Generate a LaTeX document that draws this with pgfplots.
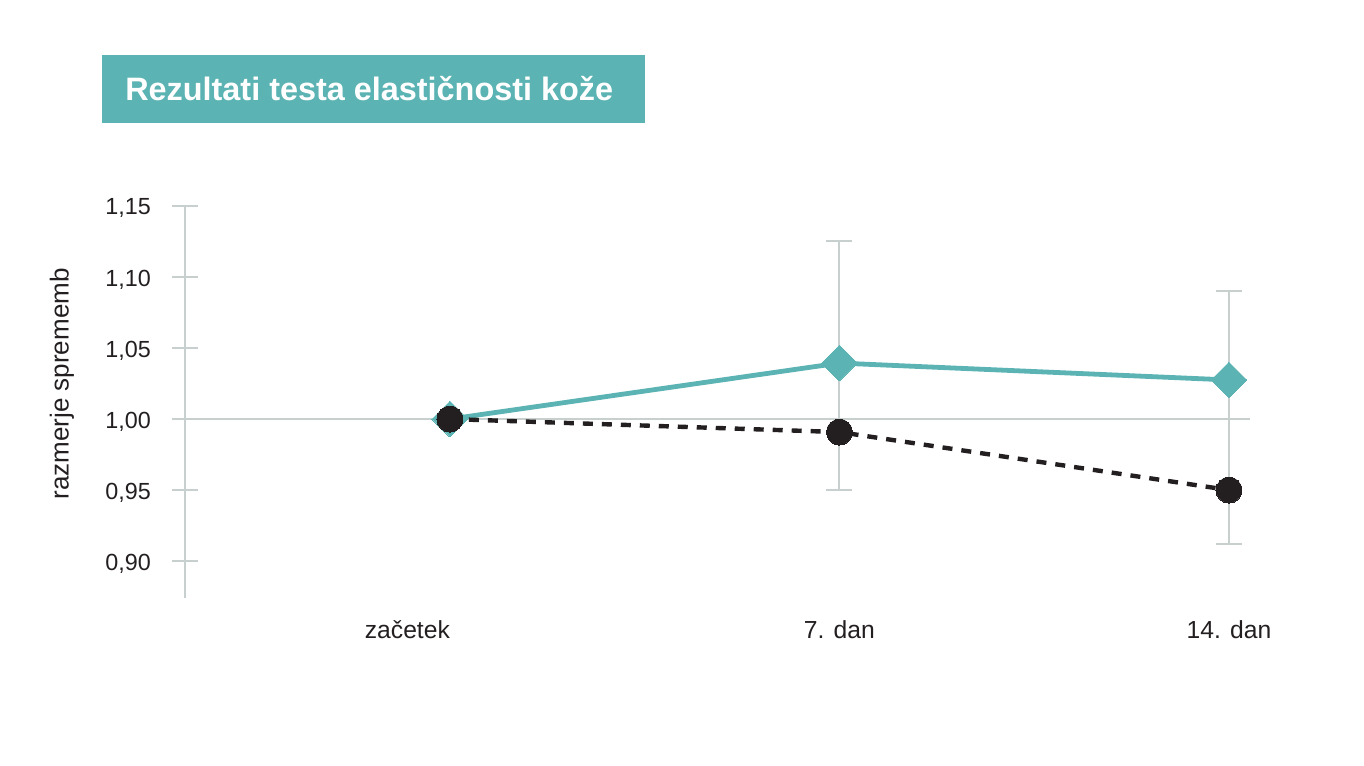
\documentclass[border=0pt]{standalone}
\usepackage{pgfplots}
\pgfplotsset{compat=1.18}
\usepackage{fontspec}
\setmainfont{Liberation Sans}
\definecolor{teal1}{HTML}{5CB3B3}
\definecolor{ink}{HTML}{231F20}
\definecolor{grid1}{HTML}{C8D0CF}
\begin{document}
\begin{tikzpicture}[x=0.75pt,y=0.75pt]
\useasboundingbox (0,0) rectangle (1364,766);
% title
\fill[teal1] (102,643) rectangle (645,711);
\node[anchor=base west, text=white, font=\fontsize{24.3pt}{28pt}\selectfont\bfseries, inner sep=0pt] at (125,665) {Rezultati testa elastičnosti kože};
\begin{axis}[
  at={(138.75pt,126pt)}, anchor=south west,
  scale only axis, width=798.75pt, height=294pt,
  xmin=-0.680, xmax=2.054, ymin=0.874, ymax=1.15,
  axis lines=left,
  axis line style={draw=grid1, line width=1.5pt, -},
  x axis line style={draw=none},
  xtick={0,1,2}, xticklabels={\makebox[0pt][r]{začetek},7. dan,14. dan},
  xtick style={draw=none},
  ytick={0.90,0.95,1.00,1.05,1.10,1.15},
  ytick style={draw=grid1, line width=1.5pt},
  tick align=center, major tick length=19.5pt,
  /pgf/number format/.cd, assume math mode=true, use comma, fixed, fixed zerofill, precision=2,
  /pgfplots/.cd,
  yticklabel style={anchor=base east, inner sep=0pt, xshift=-15.75pt, yshift=-6.75pt, font=\fontsize{17.5pt}{20pt}\selectfont, text=ink},
  xticklabel style={anchor=base, inner sep=0pt, yshift=-21pt, font=\fontsize{18.5pt}{22pt}\selectfont, text=ink},
  ylabel={razmerje sprememb},
  every axis y label/.style={at={(axis description cs:-0.1155,0.546)}, rotate=90, anchor=center, font=\fontsize{19.5pt}{22pt}\selectfont, text=ink},
  clip=false,
]
\draw[grid1, line width=1.5pt] (axis cs:-0.680,1) -- (axis cs:2.054,1);
% error bars
\addplot[draw=none, mark=none, forget plot,
  error bars/.cd, y dir=both, y explicit,
  error bar style={draw=grid1, line width=1.5pt},
  error mark=|, error mark options={draw=grid1, line width=1.5pt, mark size=9.75pt}]
  table[x=x, y=y, y error plus=ep, y error minus=em] {
x y ep em
1 1.0394 0.0856 0.0894
2 1.0275 0.0625 0.1155
};
% teal series
\addplot[teal1, line width=3.6pt, mark=square*, mark size=9.5pt,
  mark options={rotate=45, fill=teal1, draw=teal1, line width=0pt}]
  coordinates {(0,1.000) (1,1.0394) (2,1.0275)};
% black dashed series
\addplot[ink, line width=3.3pt, dash pattern=on 7.5pt off 6.75pt, mark=*, mark size=9.75pt,
  mark options={solid, fill=ink, draw=ink, line width=0pt}]
  coordinates {(0,1.000) (1,0.9908) (2,0.9500)};
\end{axis}
\end{tikzpicture}
\end{document}
